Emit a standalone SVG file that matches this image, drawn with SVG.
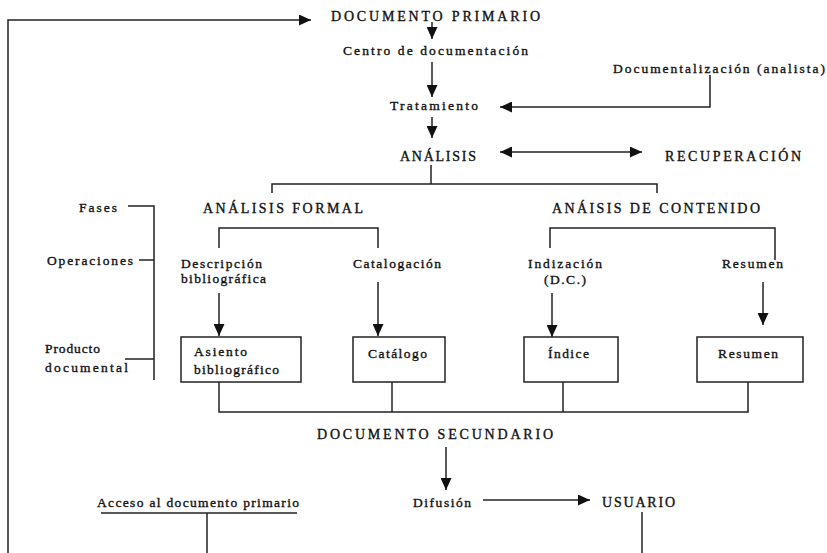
<svg xmlns="http://www.w3.org/2000/svg" width="827" height="553" viewBox="0 0 827 553">
<defs>
<marker id="ah" markerUnits="userSpaceOnUse" markerWidth="13" markerHeight="11" refX="12" refY="5.5" orient="auto-start-reverse" viewBox="0 0 13 11">
<path d="M0,0 L12,5.5 L0,11 z" fill="#111"/>
</marker>
<style>
text{font-family:"Liberation Serif","Times New Roman",serif;fill:#111;stroke:#111;stroke-width:0.35;font-size:13.5px}
.cap{font-size:14px}
.ln{fill:none;stroke:#222;stroke-width:1.5}
.arr{fill:none;stroke:#222;stroke-width:1.5;marker-end:url(#ah)}
.box{fill:#fff;stroke:#222;stroke-width:1.5}
</style>
</defs>
<rect width="827" height="553" fill="#fff"/>
<g id="connectors">
<polyline class="arr" points="8,553 8,20 311,20"/>
<line class="arr" x1="432" y1="22" x2="432" y2="39"/>
<line class="arr" x1="432" y1="62" x2="432" y2="97"/>
<polyline class="arr" points="710,75 710,107 500,107"/>
<line class="arr" x1="432" y1="117" x2="432" y2="138"/>
<line class="arr" x1="500" y1="152" x2="642" y2="152" marker-start="url(#ah)"/>
<polyline class="ln" points="431,165 431,184"/>
<polyline class="ln" points="272,193 272,184 657,184 657,193"/>
<polyline class="ln" points="219,248 219,228 378,228 378,248"/>
<polyline class="ln" points="550,248 550,228 775,228 775,260"/>
<polyline class="ln" points="128,206 154,206 154,380"/>
<line class="ln" x1="139" y1="260" x2="154" y2="260"/>
<line class="ln" x1="125" y1="359" x2="154" y2="359"/>
<line class="arr" x1="219" y1="293" x2="219" y2="336"/>
<line class="arr" x1="378" y1="282" x2="378" y2="336"/>
<line class="arr" x1="552" y1="293" x2="552" y2="337"/>
<line class="arr" x1="763" y1="282" x2="763" y2="325"/>
<polyline class="ln" points="219,382 219,412 748,412 748,382"/>
<line class="ln" x1="392" y1="382" x2="392" y2="412"/>
<line class="ln" x1="563" y1="382" x2="563" y2="412"/>
<line class="arr" x1="446" y1="447" x2="446" y2="490"/>
<line class="arr" x1="483" y1="500" x2="590" y2="500"/>
<line class="ln" x1="642" y1="512" x2="642" y2="553"/>
<line class="ln" x1="101" y1="513" x2="297" y2="513"/>
<line class="ln" x1="207" y1="513" x2="207" y2="553"/>
</g>
<g id="doc-primario"><text class="cap" x="331" y="21" textLength="209" lengthAdjust="spacing">DOCUMENTO PRIMARIO</text></g>
<g id="centro"><text x="343" y="55" textLength="185" lengthAdjust="spacing">Centro de documentación</text></g>
<g id="tratamiento"><text x="390" y="110" textLength="88" lengthAdjust="spacing">Tratamiento</text></g>
<g id="documentalizacion"><text x="613" y="73" textLength="212" lengthAdjust="spacing">Documentalización (analista)</text></g>
<g id="analisis"><text class="cap" x="400" y="161" textLength="76" lengthAdjust="spacing">ANÁLISIS</text></g>
<g id="recuperacion"><text class="cap" x="665" y="161" textLength="136" lengthAdjust="spacing">RECUPERACIÓN</text></g>
<g id="analisis-formal"><text class="cap" x="203" y="213" textLength="160" lengthAdjust="spacing">ANÁLISIS FORMAL</text></g>
<g id="analisis-contenido"><text class="cap" x="552" y="213" textLength="208" lengthAdjust="spacing">ANÁISIS DE CONTENIDO</text></g>
<g id="fases"><text x="79" y="212" textLength="38" lengthAdjust="spacing">Fases</text></g>
<g id="operaciones"><text x="47" y="265" textLength="86" lengthAdjust="spacing">Operaciones</text></g>
<g id="producto"><text x="45" y="353" textLength="55" lengthAdjust="spacing">Producto</text><text x="45" y="372" textLength="83" lengthAdjust="spacing">documental</text></g>
<g id="descripcion"><text x="181" y="268" textLength="81" lengthAdjust="spacing">Descripción</text><text x="181" y="283" textLength="85" lengthAdjust="spacing">bibliográfica</text></g>
<g id="catalogacion"><text x="353" y="268" textLength="88" lengthAdjust="spacing">Catalogación</text></g>
<g id="indizacion"><text x="528" y="268" textLength="74" lengthAdjust="spacing">Indización</text><text x="544" y="284" textLength="42" lengthAdjust="spacing">(D.C.)</text></g>
<g id="resumen-op"><text x="722" y="268" textLength="61" lengthAdjust="spacing">Resumen</text></g>
<g id="asiento"><rect class="box" x="181" y="337" width="120" height="45"/><text x="194" y="356" textLength="53" lengthAdjust="spacing">Asiento</text><text x="194" y="374" textLength="85" lengthAdjust="spacing">bibliográfico</text></g>
<g id="catalogo"><rect class="box" x="353" y="337" width="92" height="45"/><text x="368" y="358" textLength="59" lengthAdjust="spacing">Catálogo</text></g>
<g id="indice"><rect class="box" x="524" y="337" width="94" height="45"/><text x="548" y="358" textLength="41" lengthAdjust="spacing">Índice</text></g>
<g id="resumen"><rect class="box" x="697" y="337" width="106" height="45"/><text x="718" y="358" textLength="60" lengthAdjust="spacing">Resumen</text></g>
<g id="doc-secundario"><text class="cap" x="317" y="439" textLength="236" lengthAdjust="spacing">DOCUMENTO SECUNDARIO</text></g>
<g id="difusion"><text x="413" y="507" textLength="58" lengthAdjust="spacing">Difusión</text></g>
<g id="usuario"><text class="cap" x="602" y="507" textLength="73" lengthAdjust="spacing">USUARIO</text></g>
<g id="acceso"><text x="97" y="507" textLength="202" lengthAdjust="spacing">Acceso al documento primario</text></g>
</svg>
